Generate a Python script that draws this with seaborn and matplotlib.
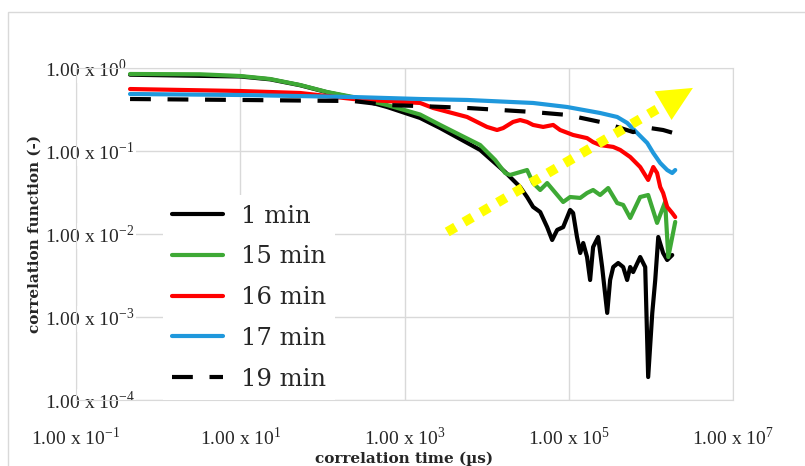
import pandas as pd
import matplotlib
matplotlib.use('Agg')
import matplotlib.pyplot as plt
import seaborn as sns
from matplotlib.patches import Rectangle
from matplotlib.ticker import NullLocator

# correlation time (us) / correlation function (-)
t_1min = [0.455, 10, 23.1, 53.5, 114, 237, 614, 1550, 2720, 8340, 16800, 19300, 25600, 31100,
          36800, 44900, 54600, 62800, 72300, 85500, 1.04e5, 1.13e5, 1.26e5, 1.38e5, 1.50e5,
          1.67e5, 1.82e5, 1.98e5, 2.28e5, 2.55e5, 2.94e5, 3.19e5, 3.48e5, 4.00e5, 4.60e5,
          5.14e5, 5.60e5, 6.08e5, 7.41e5, 8.53e5, 9.27e5, 1.04e6, 1.13e6, 1.23e6, 1.41e6,
          1.58e6, 1.82e6]
g_1min = [0.83, 0.79, 0.73, 0.62, 0.51, 0.44, 0.339, 0.250, 0.189, 0.103, 0.0558, 0.0486,
          0.0368, 0.0279, 0.0212, 0.0184, 0.0121, 0.00847, 0.0112, 0.0121, 0.0195, 0.0179,
          0.0092, 0.0059, 0.00779, 0.00528, 0.00279, 0.00697, 0.0092, 0.0040, 0.00112,
          0.00279, 0.0040, 0.00447, 0.0040, 0.00279, 0.0040, 0.00348, 0.00528, 0.0040,
          0.000189, 0.00112, 0.00279, 0.0092, 0.0059, 0.00486, 0.00558]

t_15min = [0.455, 3.24, 10, 23.1, 53.5, 114, 237, 614, 1550, 2720, 4750, 8340, 12700, 16800,
           19300, 31100, 36800, 44900, 54600, 85500, 1.04e5, 1.38e5, 1.67e5, 1.98e5, 2.41e5,
           3.02e5, 3.89e5, 4.60e5, 5.60e5, 7.41e5, 9.27e5, 1.19e6, 1.49e6, 1.63e6, 1.98e6]
g_15min = [0.847, 0.84, 0.801, 0.737, 0.624, 0.514, 0.447, 0.358, 0.275, 0.206, 0.156, 0.118,
           0.0779, 0.0543, 0.0514, 0.0590, 0.0411, 0.0339, 0.0411, 0.0243, 0.0279, 0.0272,
           0.0312, 0.0339, 0.0295, 0.0358, 0.0236, 0.0224, 0.0156, 0.0279, 0.0295, 0.0136,
           0.0243, 0.00528, 0.0140]

t_16min = [0.455, 10, 53.5, 237, 1550, 2230, 5780, 10100, 13400, 15900, 21000, 25600, 31100,
           36800, 48800, 64600, 78500, 1.13e5, 1.67e5, 1.98e5, 2.41e5, 3.48e5, 4.23e5, 5.60e5,
           7.41e5, 9.27e5, 1.07e6, 1.19e6, 1.30e6, 1.41e6, 1.58e6, 1.82e6, 1.98e6]
g_16min = [0.558, 0.528, 0.50, 0.423, 0.379, 0.330, 0.257, 0.195, 0.179, 0.189, 0.224, 0.236,
           0.224, 0.206, 0.195, 0.206, 0.179, 0.156, 0.143, 0.128, 0.118, 0.112, 0.103, 0.0847,
           0.0641, 0.0448, 0.0641, 0.0543, 0.0368, 0.0312, 0.0212, 0.0179, 0.0160]

t_17min = [0.455, 10, 237, 1550, 5780, 36800, 95500, 2.41e5, 3.89e5, 5.14e5, 6.81e5, 9.02e5,
           1.07e6, 1.30e6, 1.58e6, 1.82e6, 1.98e6]
g_17min = [0.486, 0.473, 0.447, 0.423, 0.412, 0.379, 0.339, 0.287, 0.257, 0.218, 0.165, 0.125,
           0.0946, 0.0717, 0.0590, 0.0543, 0.0590]

t_19min = [0.455, 10, 237, 614, 1550, 5780, 36800, 95500, 2.41e5, 3.89e5, 6.08e5, 9.80e5,
           1.41e6, 1.87e6]
g_19min = [0.423, 0.412, 0.40, 0.358, 0.348, 0.330, 0.295, 0.272, 0.224, 0.195, 0.169, 0.189,
           0.179, 0.165]

series = ['1 min', '15 min', '16 min', '17 min', '19 min']
times = [t_1min, t_15min, t_16min, t_17min, t_19min]
values = [g_1min, g_15min, g_16min, g_17min, g_19min]
colors = ['black', '#3ea935', '#ff0000', '#1f98dc', 'black']

xticks = [1e-1, 1e1, 1e3, 1e5, 1e7]
xtick_labels = [r'1.00 x 10$^{\mathdefault{-1}}$', r'1.00 x 10$^{\mathdefault{1}}$',
                r'1.00 x 10$^{\mathdefault{3}}$', r'1.00 x 10$^{\mathdefault{5}}$',
                r'1.00 x 10$^{\mathdefault{7}}$']
yticks = [1e-4, 1e-3, 1e-2, 1e-1, 1e0]
ytick_labels = [r'1.00 x 10$^{\mathdefault{-4}}$', r'1.00 x 10$^{\mathdefault{-3}}$',
                r'1.00 x 10$^{\mathdefault{-2}}$', r'1.00 x 10$^{\mathdefault{-1}}$',
                r'1.00 x 10$^{\mathdefault{0}}$']

sns.set_style('white')
plt.rcParams['font.family'] = ['DejaVu Serif']

fig = plt.figure(figsize=(8.05, 4.66), dpi=100)
ax = fig.add_axes([76 / 805, 1 - 400 / 466, 657 / 805, 332 / 466])

for name, t, g, c in zip(series, times, values, colors):
    df = pd.DataFrame({'t': t, 'g': g})
    ls = (0, (5, 4)) if name == '19 min' else '-'
    sns.lineplot(data=df, x='t', y='g', color=c, lw=3, linestyle=ls, label=name,
                 ax=ax, estimator=None, sort=False)

ax.set_xscale('log')
ax.set_yscale('log')
ax.set_xlim(1e-1, 1e7)
ax.set_ylim(1e-4, 1)
ax.set_xticks(xticks, labels=xtick_labels)
ax.set_yticks(yticks, labels=ytick_labels)
ax.xaxis.set_minor_locator(NullLocator())
ax.yaxis.set_minor_locator(NullLocator())
ax.tick_params(length=0, labelsize=14, labelfontfamily='Liberation Serif')
ax.tick_params(axis='y', pad=22)
ax.tick_params(axis='x', pad=19)
for lab in ax.get_yticklabels():
    lab.set_horizontalalignment('left')
    lab.set_bbox(dict(facecolor='white', edgecolor='none', pad=1))

ax.grid(True, color='#d9d9d9', lw=1)
ax.set_axisbelow(True)
for sp in ax.spines.values():
    sp.set_color('#d9d9d9')

ax.set_xlabel('correlation time (µs)', fontsize=11, fontweight='bold', labelpad=2)
ax.set_ylabel('correlation function (-)', fontsize=11, fontweight='bold', labelpad=3)

# yellow dotted trend arrow: dotted shaft + solid head
ax.annotate('', xy=(0.893, 0.886), xytext=(0.565, 0.506), xycoords='axes fraction',
            arrowprops=dict(arrowstyle='-', lw=7, ls=(0, (1, 1)), capstyle='butt',
                            color='#ffff00', shrinkA=0, shrinkB=0), zorder=6)
ax.annotate('', xy=(0.939, 0.94), xytext=(0.893, 0.886), xycoords='axes fraction',
            arrowprops=dict(arrowstyle='-|>,head_length=25,head_width=12', mutation_scale=1,
                            lw=0, color='#ffff00', shrinkA=0, shrinkB=0), zorder=6)

ax.legend(loc='upper left', bbox_to_anchor=(0.132, 0.618), borderaxespad=0, fontsize=17.5,
          frameon=True, facecolor='white', edgecolor='none', framealpha=1, fancybox=False,
          handlelength=2.1, handletextpad=0.7, labelspacing=0.73, borderpad=0.4)

fig.patches.append(Rectangle((8 / 805, -0.1), 1.2, 1.074, transform=fig.transFigure,
                             fill=False, edgecolor='#d9d9d9', lw=1))

fig.savefig('out.png', dpi=100)
